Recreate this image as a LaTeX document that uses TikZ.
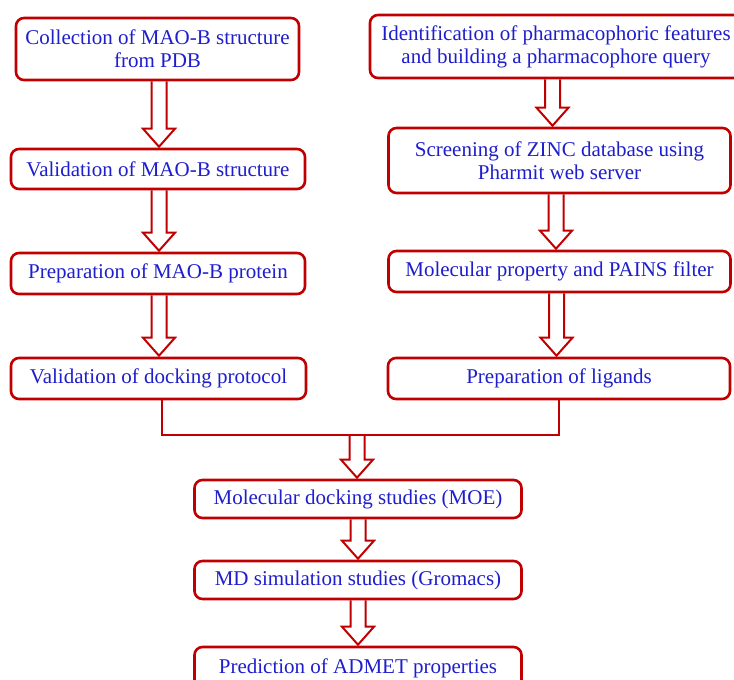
\documentclass[tikz,border=0pt]{standalone}
\usepackage{fontspec}
\setmainfont{Liberation Serif}
\usetikzlibrary{calc}
\definecolor{boxred}{RGB}{192,0,0}
\definecolor{txtblue}{RGB}{30,30,205}
\tikzset{
  stepbox/.style={draw=boxred, line width=2.6pt, rounded corners=8pt, fill=white,
    text=txtblue, align=center, inner sep=0pt,
    font=\fontsize{21}{23}\selectfont},
  harr/.style={draw=boxred, line width=2pt, line join=miter},
  conn/.style={draw=boxred, line width=2.4pt},
}
\newcommand\harrow[3][0pt]{%
  \draw[harr] let \p1=(#2), \p2=(#3) in
    (\x1+#1-7.5pt,\y1) -- (\x1+#1-7.5pt,\y2+19pt) -- (\x1+#1-16pt,\y2+19pt)
    -- (\x1+#1,\y2+1pt) -- (\x1+#1+16pt,\y2+19pt) -- (\x1+#1+7.5pt,\y2+19pt)
    -- (\x1+#1+7.5pt,\y1);}
\begin{document}
\begin{tikzpicture}[x=1pt,y=-1pt]
\useasboundingbox (0,0) rectangle (734,680);
\begin{scope}
\clip (0,0) rectangle (734,680);
% left column
\node[stepbox, minimum width=283pt, minimum height=62pt] (A1) at (157.5,49)
  {Collection of MAO-B structure\\from PDB};
\node[stepbox, minimum width=294pt, minimum height=40pt] (A2) at (158,169)
  {Validation of MAO-B structure};
\node[stepbox, minimum width=294pt, minimum height=41pt] (A3) at (158,273.5)
  {Preparation of MAO-B protein};
\node[stepbox, minimum width=295pt, minimum height=41pt] (A4) at (158.5,378.5)
  {Validation of docking protocol};
% right column
\node[stepbox, minimum width=372pt, minimum height=63pt] (B1) at (556,46.5)
  {Identification of pharmacophoric features\\and building a pharmacophore query};
\node[stepbox, minimum width=342pt, minimum height=65pt] (B2) at (559.5,160.5)
  {Screening of ZINC database using\\Pharmit web server};
\node[stepbox, minimum width=342pt, minimum height=41pt] (B3) at (559.5,271.5)
  {Molecular property and PAINS filter};
\node[stepbox, minimum width=342pt, minimum height=41pt] (B4) at (559,378.5)
  {Preparation of ligands};
% center column
\node[stepbox, minimum width=327pt, minimum height=38pt] (C1) at (358,499)
  {Molecular docking studies (MOE)};
\node[stepbox, minimum width=327pt, minimum height=38pt] (C2) at (358,580)
  {MD simulation studies (Gromacs)};
\node[stepbox, minimum width=327pt, minimum height=42pt] (C3) at (358,668)
  {Prediction of ADMET properties};
% join
\coordinate (J) at (357,435);
\coordinate (JL) at (162,399);
\draw[conn] (A4.south -| JL) |- (J) -| (B4.south);
% hollow arrows
\harrow[1.5pt]{A1.south}{A2.north}
\harrow[1pt]{A2.south}{A3.north}
\harrow[1pt]{A3.south}{A4.north}
\harrow[-3.5pt]{B1.south}{B2.north}
\harrow[-3.5pt]{B2.south}{B3.north}
\harrow[-3pt]{B3.south}{B4.north}
\harrow{J}{C1.north}
\harrow{C1.south}{C2.north}
\harrow{C2.south}{C3.north}
\end{scope}
\end{tikzpicture}
\end{document}
